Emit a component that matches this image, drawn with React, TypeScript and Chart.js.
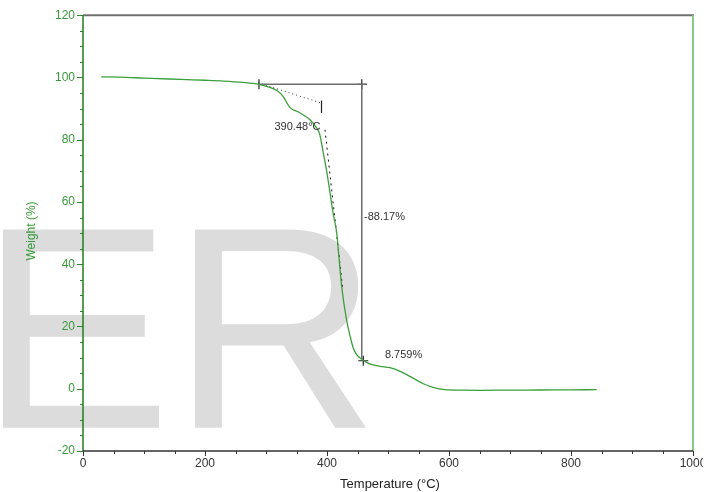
import React, { useEffect, useRef } from 'react';
import { Chart, registerables } from 'chart.js';

Chart.register(...registerables);

// TGA curve: temperature (°C) and weight (%)
const temperature = [30, 60, 100, 140, 170, 200, 230, 262, 288, 305, 318, 328, 339, 356, 372, 383, 388, 394, 400, 405, 410, 416, 419, 424, 432, 438, 443, 449, 457, 470, 487, 503, 520, 541, 558, 574, 593, 620, 651, 700, 750, 800, 842];
const weight = [100.2, 100.1, 99.8, 99.5, 99.3, 99.1, 98.85, 98.4, 97.8, 96.9, 95.8, 93.9, 90.4, 88.6, 86.4, 83.8, 81.8, 75.7, 69.3, 62.9, 56.4, 50.0, 43.6, 32.9, 22.2, 16.8, 13.1, 10.9, 9.5, 8.0, 7.2, 6.75, 5.6, 3.4, 1.6, 0.4, -0.3, -0.45, -0.5, -0.45, -0.4, -0.35, -0.3];

// Step analysis annotation (data coordinates)
const stepTop = { t: 457, w: 97.8 };
const stepBottom = { t: 459.5, w: 9.0 };
const onset = { t: 288.5, w: 97.8 };
const stepLineEndT = 465;
const tangent1T = [287, 388.5];
const tangent1W = [98.3, 91.9];
const onsetTickT = 391;
const onsetTickW = [92.6, 88.6];
const tangent2T = [396.7, 425.4];
const tangent2W = [83.2, 32.8];

const annotationTexts = ['390.48°C', '-88.17%', '8.759%'];
const annotationT = [351.6, 460.7, 495];
const annotationW = [84.2, 55.3, 10.9];
const annotationAlign = ['center', 'left', 'left'];

const xMin = 0, xMax = 1000, xStep = 200, xMinorStep = 50;
const yMin = -20, yMax = 120, yStep = 20, yMinorStep = 5;

const xTitle = 'Temperature (°C)';
const yTitle = 'Weight (%)';
const watermark = 'ER';

const FONT = '"Liberation Sans", Arial, Helvetica, sans-serif';

const decoPlugin = {
  id: 'deco',
  beforeDraw(chart: any) {
    const ctx = chart.ctx;
    ctx.save();
    ctx.fillStyle = '#dcdcdc';
    ctx.font = `288px ${FONT}`;
    ctx.textAlign = 'left';
    ctx.textBaseline = 'alphabetic';
    ctx.fillText(watermark, -20.7, 427.7);
    ctx.restore();
  },
  afterDraw(chart: any) {
    const ctx = chart.ctx;
    const { left, right, top, bottom } = chart.chartArea;
    const xs = chart.scales.x;
    const ys = chart.scales.y;
    ctx.save();
    // top border
    ctx.strokeStyle = '#707070';
    ctx.lineWidth = 2;
    ctx.beginPath(); ctx.moveTo(left, top); ctx.lineTo(right + 1, top); ctx.stroke();
    // right border
    ctx.strokeStyle = '#86cc86';
    ctx.lineWidth = 2;
    ctx.beginPath(); ctx.moveTo(right, top); ctx.lineTo(right, bottom); ctx.stroke();
    // y ticks
    ctx.strokeStyle = '#2b8a2b';
    ctx.lineWidth = 1;
    for (let v = yMin; v <= yMax; v += yMinorStep) {
      const p = Math.round(ys.getPixelForValue(v)) + 0.5;
      const len = v % yStep === 0 ? 6 : 3;
      ctx.beginPath(); ctx.moveTo(left - len, p); ctx.lineTo(left, p); ctx.stroke();
    }
    // x ticks
    ctx.strokeStyle = '#333';
    for (let v = xMin; v <= xMax; v += xMinorStep) {
      const p = Math.round(xs.getPixelForValue(v)) + 0.5;
      const len = v % xStep === 0 ? 5 : 3;
      ctx.beginPath(); ctx.moveTo(p, bottom); ctx.lineTo(p, bottom + len); ctx.stroke();
    }
    // left axis
    ctx.strokeStyle = '#1e7e1e';
    ctx.lineWidth = 1.5;
    ctx.beginPath(); ctx.moveTo(left, top); ctx.lineTo(left, bottom); ctx.stroke();
    // bottom axis
    ctx.strokeStyle = '#333';
    ctx.lineWidth = 1.5;
    ctx.beginPath(); ctx.moveTo(left, bottom); ctx.lineTo(right, bottom); ctx.stroke();

    // annotation texts
    ctx.fillStyle = '#333';
    ctx.font = `11px ${FONT}`;
    ctx.textBaseline = 'middle';
    annotationTexts.forEach((txt, i) => {
      ctx.textAlign = annotationAlign[i] as CanvasTextAlign;
      ctx.fillText(txt, xs.getPixelForValue(annotationT[i]), ys.getPixelForValue(annotationW[i]));
    });

    // axis titles
    ctx.fillStyle = '#222';
    ctx.font = `13px ${FONT}`;
    ctx.textAlign = 'center';
    ctx.fillText(xTitle, (left + right) / 2 + 2, 484);
    ctx.save();
    ctx.translate(32, 231);
    ctx.rotate(-Math.PI / 2);
    ctx.fillStyle = '#3a9a3a';
    ctx.font = `12px ${FONT}`;
    ctx.fillText(yTitle, 0, 0);
    ctx.restore();
    ctx.restore();
  },
};

export default function App() {
  const canvasRef = useRef<HTMLCanvasElement | null>(null);

  useEffect(() => {
    const canvas = canvasRef.current;
    if (!canvas) return;
    const pts = (ts: number[], ws: number[]) => ts.map((t, i) => ({ x: t, y: ws[i] }));
    const chart = new Chart(canvas, {
      type: 'line',
      data: {
        datasets: [
          {
            data: pts(temperature, weight),
            borderColor: '#3c9f3c',
            borderWidth: 1.3,
            pointRadius: 0,
            cubicInterpolationMode: 'monotone',
            fill: false,
          },
          {
            data: [{ x: onset.t, y: onset.w }, { x: stepLineEndT, y: onset.w }],
            borderColor: '#6e6e6e',
            borderWidth: 1.5,
            pointRadius: 0,
          },
          {
            data: [{ x: stepTop.t, y: stepTop.w }, { x: stepTop.t, y: stepBottom.w + 0.5 }],
            borderColor: '#6e6e6e',
            borderWidth: 1.5,
            pointRadius: 0,
          },
          {
            data: pts(tangent1T, tangent1W),
            borderColor: '#333',
            borderWidth: 1,
            borderDash: [1, 3],
            pointRadius: 0,
          },
          {
            data: [{ x: onsetTickT, y: onsetTickW[0] }, { x: onsetTickT, y: onsetTickW[1] }],
            borderColor: '#222',
            borderWidth: 1.2,
            pointRadius: 0,
          },
          {
            data: pts(tangent2T, tangent2W),
            borderColor: '#111',
            borderWidth: 1,
            borderDash: [2, 4],
            pointRadius: 0,
          },
          {
            data: [{ x: stepTop.t, y: stepTop.w }, { x: stepBottom.t, y: stepBottom.w }],
            showLine: false,
            pointStyle: 'cross',
            pointRadius: 5,
            borderColor: '#222',
            borderWidth: 1.2,
            backgroundColor: '#222',
          },
          {
            data: [{ x: onset.t, y: onset.w }],
            showLine: false,
            pointStyle: 'line',
            rotation: 90,
            pointRadius: 5,
            borderColor: '#222',
            borderWidth: 1.2,
          },
        ] as any,
      },
      options: {
        animation: false,
        responsive: false,
        events: [],
        layout: { padding: { left: 0, top: 15, right: 24, bottom: 0 } },
        plugins: { legend: { display: false }, tooltip: { enabled: false } },
        scales: {
          x: {
            type: 'linear',
            min: xMin,
            max: xMax,
            afterFit: (s: any) => { s.height = 41; },
            grid: { display: false, drawTicks: false, tickLength: 0 },
            border: { display: false },
            ticks: { stepSize: xStep, color: '#333', padding: 5, font: { size: 12, family: FONT }, maxRotation: 0, autoSkip: false, callback: (v: any) => String(v) },
          },
          y: {
            type: 'linear',
            min: yMin,
            max: yMax,
            afterFit: (s: any) => { s.width = 83; },
            grid: { display: false, drawTicks: false, tickLength: 0 },
            border: { display: false },
            ticks: { stepSize: yStep, color: '#3a9a3a', padding: 8, font: { size: 12, family: FONT }, callback: (v: any) => String(v) },
          },
        },
      } as any,
      plugins: [decoPlugin],
    });
    return () => chart.destroy();
  }, []);

  return (
    <div style={{ position: 'absolute', left: 0, top: 0, width: 703, height: 492, overflow: 'hidden', background: '#fff' }}>
      <canvas ref={canvasRef} width={717} height={492} style={{ display: 'block' }} />
    </div>
  );
}
